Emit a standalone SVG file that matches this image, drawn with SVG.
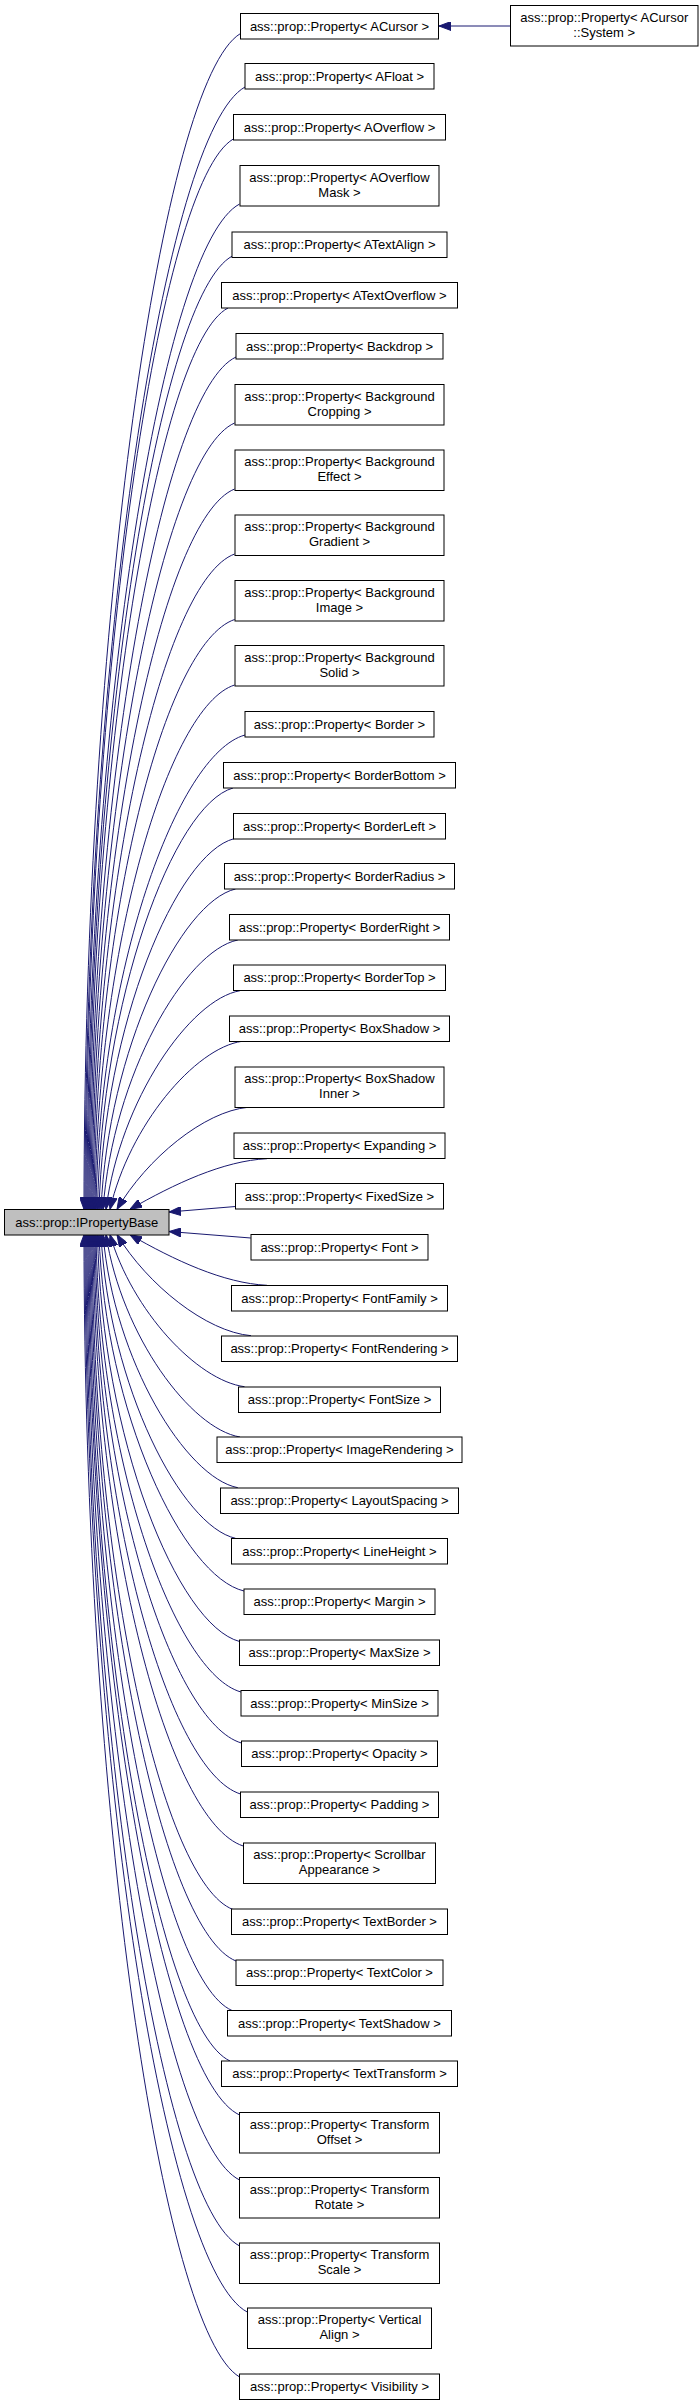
<svg xmlns="http://www.w3.org/2000/svg" width="700" height="2406" viewBox="0 0 700 2406">
<style>
.n rect{fill:#ffffff;stroke:#000000;stroke-width:1}
.b rect{fill:#bfbfbf;stroke:#000000;stroke-width:1}
text{font-family:"Liberation Sans",Arial,Helvetica,sans-serif;font-size:13px;fill:#000000;text-anchor:middle}
.e path{fill:none;stroke:#191970;stroke-width:1;marker-end:url(#ah)}
</style>
<defs>
<marker id="ah" viewBox="0 0 12 9" refX="12" refY="4.5" markerWidth="12" markerHeight="9" markerUnits="userSpaceOnUse" orient="auto"><path d="M0,0L12,4.5L0,9z" fill="#191970" stroke="#191970" stroke-width="1"/></marker>
</defs>
<rect width="700" height="2406" fill="#ffffff"/>
<g class="e" id="edges">
<path d="M510.5,26 L439,26"/>
<path d="M240.5,33.5 C162.2,80.5 84,621.4 84,1209.3"/>
<path d="M245,87 C165,131.9 85,648.2 85,1209.3"/>
<path d="M233.3,139 C159.6,181.8 86.1,674.2 86,1209.3"/>
<path d="M239.6,204 C163.3,244.2 87.1,706.7 87,1209.3"/>
<path d="M232.4,256 C160.2,294.1 88.1,732.7 88,1209.3"/>
<path d="M228,308 C158.5,344.1 89.2,758.7 89,1209.3"/>
<path d="M236,357 C163,391.1 90.2,783.2 90,1209.3"/>
<path d="M234.6,423 C162.8,454.5 91.3,816.2 91,1209.3"/>
<path d="M234.6,489 C163.3,517.8 92.5,849.2 92,1209.3"/>
<path d="M234.6,554 C163.8,580.2 93.8,881.7 93,1209.3"/>
<path d="M234.6,619.5 C164.7,643.1 95.2,914.4 94,1209.3"/>
<path d="M234.6,685 C168.3,706 96.9,947.2 95,1209.3"/>
<path d="M245,735 C176.8,754 98.8,972.2 96,1209.3"/>
<path d="M233,788 C173.4,804.9 101.2,998.7 97.5,1209.3"/>
<path d="M234,838.7 C176.8,853.5 104.1,1024 99,1209.3"/>
<path d="M235.5,889 C180.8,901.8 108.2,1049.2 101,1209.3"/>
<path d="M237.8,940 C185.2,950.8 113.1,1074.7 103,1209.3"/>
<path d="M240,990.7 C190,999.4 120.1,1100 106,1209.3"/>
<path d="M242,1041.3 C195,1048 129.4,1125.3 110,1209.3"/>
<path d="M248,1107.3 C204.2,1111.4 146.9,1158.3 117,1209.3"/>
<path d="M267,1158.7 C223.6,1160.7 174,1184 130,1209.3"/>
<path d="M235.5,1206.5 L169,1212"/>
<path d="M250.8,1238 L169,1231.5"/>
<path d="M267,1285.3 C223.6,1283.3 174,1260 130,1234.7"/>
<path d="M251,1335.7 C206.2,1331.7 147.8,1285.2 117,1234.7"/>
<path d="M244.5,1386.7 C197.3,1380.6 132,1310.7 110,1234.7"/>
<path d="M240,1437 C190.8,1428.9 121.7,1335.9 106,1234.7"/>
<path d="M237.8,1487.7 C186,1477.6 114.2,1361.2 103,1234.7"/>
<path d="M235.5,1538.3 C181.6,1526.2 109,1386.5 101,1234.7"/>
<path d="M244,1591 C183.2,1576.7 105.1,1412.9 99,1234.7"/>
<path d="M239.6,1641.5 C177.6,1625.2 101.7,1438.1 97.5,1234.7"/>
<path d="M241,1692 C175.5,1673.7 99.1,1463.4 96,1234.7"/>
<path d="M241.4,1743 C172.7,1722.7 97.2,1488.9 95,1234.7"/>
<path d="M240.5,1794 C169.3,1771.6 95.6,1514.4 94,1234.7"/>
<path d="M243.2,1846 C168.1,1821.5 94.1,1540.4 93,1234.7"/>
<path d="M233,1909.5 C162.5,1882.5 92.7,1572.1 92,1234.7"/>
<path d="M236,1961 C163.5,1931.9 91.5,1597.9 91,1234.7"/>
<path d="M232,2010.5 C161,1979.5 90.4,1622.6 90,1234.7"/>
<path d="M230,2061 C159.5,2027.9 89.3,1647.9 89,1234.7"/>
<path d="M239.6,2115 C163.8,2079.8 88.2,1674.9 88,1234.7"/>
<path d="M239.6,2180 C163.3,2142.2 87.1,1707.4 87,1234.7"/>
<path d="M239.6,2246 C162.8,2205.5 86.1,1740.4 86,1234.7"/>
<path d="M247.2,2312 C166.1,2268.9 85,1773.4 85,1234.7"/>
<path d="M239.6,2377 C161.8,2331.3 84,1805.9 84,1234.7"/>
</g>
<g class="b" id="IPropertyBase"><rect x="4.5" y="1209.5" width="164.5" height="25.5"/><text x="86.75" y="1226.5">ass::prop::IPropertyBase</text></g>
<g class="n" id="ACursorSystem"><rect x="510.5" y="5.5" width="187.5" height="40.5"/><text x="604.25" y="21.5">ass::prop::Property&lt; ACursor</text><text x="604.25" y="36.5">::System &gt;</text></g>
<g class="n" id="ACursor"><rect x="240.5" y="13.5" width="198" height="25.5"/><text x="339.5" y="30.5">ass::prop::Property&lt; ACursor &gt;</text></g>
<g class="n" id="AFloat"><rect x="245" y="63.5" width="189" height="25.5"/><text x="339.5" y="80.5">ass::prop::Property&lt; AFloat &gt;</text></g>
<g class="n" id="AOverflow"><rect x="233.5" y="114.5" width="212" height="25.5"/><text x="339.5" y="131.5">ass::prop::Property&lt; AOverflow &gt;</text></g>
<g class="n" id="AOverflowMask"><rect x="240" y="165.5" width="199" height="40.5"/><text x="339.5" y="181.5">ass::prop::Property&lt; AOverflow</text><text x="339.5" y="196.5">Mask &gt;</text></g>
<g class="n" id="ATextAlign"><rect x="232" y="232" width="215" height="25.5"/><text x="339.5" y="249">ass::prop::Property&lt; ATextAlign &gt;</text></g>
<g class="n" id="ATextOverflow"><rect x="221.5" y="282.5" width="236" height="25.5"/><text x="339.5" y="299.5">ass::prop::Property&lt; ATextOverflow &gt;</text></g>
<g class="n" id="Backdrop"><rect x="236" y="333.5" width="207" height="25.5"/><text x="339.5" y="350.5">ass::prop::Property&lt; Backdrop &gt;</text></g>
<g class="n" id="BackgroundCropping"><rect x="235" y="384.5" width="209" height="40.5"/><text x="339.5" y="400.5">ass::prop::Property&lt; Background</text><text x="339.5" y="415.5">Cropping &gt;</text></g>
<g class="n" id="BackgroundEffect"><rect x="235" y="450" width="209" height="40.5"/><text x="339.5" y="466">ass::prop::Property&lt; Background</text><text x="339.5" y="481">Effect &gt;</text></g>
<g class="n" id="BackgroundGradient"><rect x="235" y="515" width="209" height="40.5"/><text x="339.5" y="531">ass::prop::Property&lt; Background</text><text x="339.5" y="546">Gradient &gt;</text></g>
<g class="n" id="BackgroundImage"><rect x="235" y="580.5" width="209" height="40.5"/><text x="339.5" y="596.5">ass::prop::Property&lt; Background</text><text x="339.5" y="611.5">Image &gt;</text></g>
<g class="n" id="BackgroundSolid"><rect x="235" y="645.5" width="209" height="40.5"/><text x="339.5" y="661.5">ass::prop::Property&lt; Background</text><text x="339.5" y="676.5">Solid &gt;</text></g>
<g class="n" id="Border"><rect x="245" y="711.5" width="189" height="25.5"/><text x="339.5" y="728.5">ass::prop::Property&lt; Border &gt;</text></g>
<g class="n" id="BorderBottom"><rect x="223.5" y="762.5" width="232" height="25.5"/><text x="339.5" y="779.5">ass::prop::Property&lt; BorderBottom &gt;</text></g>
<g class="n" id="BorderLeft"><rect x="233.5" y="813.5" width="212" height="25.5"/><text x="339.5" y="830.5">ass::prop::Property&lt; BorderLeft &gt;</text></g>
<g class="n" id="BorderRadius"><rect x="224.5" y="863.5" width="230" height="25.5"/><text x="339.5" y="880.5">ass::prop::Property&lt; BorderRadius &gt;</text></g>
<g class="n" id="BorderRight"><rect x="229.5" y="914.5" width="220" height="25.5"/><text x="339.5" y="931.5">ass::prop::Property&lt; BorderRight &gt;</text></g>
<g class="n" id="BorderTop"><rect x="233.5" y="965" width="212" height="25.5"/><text x="339.5" y="982">ass::prop::Property&lt; BorderTop &gt;</text></g>
<g class="n" id="BoxShadow"><rect x="229.5" y="1016" width="220" height="25.5"/><text x="339.5" y="1033">ass::prop::Property&lt; BoxShadow &gt;</text></g>
<g class="n" id="BoxShadowInner"><rect x="235" y="1067" width="209" height="40.5"/><text x="339.5" y="1083">ass::prop::Property&lt; BoxShadow</text><text x="339.5" y="1098">Inner &gt;</text></g>
<g class="n" id="Expanding"><rect x="234" y="1133" width="211" height="25.5"/><text x="339.5" y="1150">ass::prop::Property&lt; Expanding &gt;</text></g>
<g class="n" id="FixedSize"><rect x="235.5" y="1183.5" width="208" height="25.5"/><text x="339.5" y="1200.5">ass::prop::Property&lt; FixedSize &gt;</text></g>
<g class="n" id="Font"><rect x="251" y="1234.5" width="177" height="25.5"/><text x="339.5" y="1251.5">ass::prop::Property&lt; Font &gt;</text></g>
<g class="n" id="FontFamily"><rect x="231.5" y="1285.5" width="216" height="25.5"/><text x="339.5" y="1302.5">ass::prop::Property&lt; FontFamily &gt;</text></g>
<g class="n" id="FontRendering"><rect x="221.5" y="1336" width="236" height="25.5"/><text x="339.5" y="1353">ass::prop::Property&lt; FontRendering &gt;</text></g>
<g class="n" id="FontSize"><rect x="238.5" y="1387" width="202" height="25.5"/><text x="339.5" y="1404">ass::prop::Property&lt; FontSize &gt;</text></g>
<g class="n" id="ImageRendering"><rect x="217" y="1437" width="245" height="25.5"/><text x="339.5" y="1454">ass::prop::Property&lt; ImageRendering &gt;</text></g>
<g class="n" id="LayoutSpacing"><rect x="220.5" y="1488" width="238" height="25.5"/><text x="339.5" y="1505">ass::prop::Property&lt; LayoutSpacing &gt;</text></g>
<g class="n" id="LineHeight"><rect x="231.5" y="1538.5" width="216" height="25.5"/><text x="339.5" y="1555.5">ass::prop::Property&lt; LineHeight &gt;</text></g>
<g class="n" id="Margin"><rect x="244" y="1589" width="191" height="25.5"/><text x="339.5" y="1606">ass::prop::Property&lt; Margin &gt;</text></g>
<g class="n" id="MaxSize"><rect x="239.5" y="1640" width="200" height="25.5"/><text x="339.5" y="1657">ass::prop::Property&lt; MaxSize &gt;</text></g>
<g class="n" id="MinSize"><rect x="241" y="1690.5" width="197" height="25.5"/><text x="339.5" y="1707.5">ass::prop::Property&lt; MinSize &gt;</text></g>
<g class="n" id="Opacity"><rect x="241.5" y="1741" width="196" height="25.5"/><text x="339.5" y="1758">ass::prop::Property&lt; Opacity &gt;</text></g>
<g class="n" id="Padding"><rect x="240.5" y="1792" width="198" height="25.5"/><text x="339.5" y="1809">ass::prop::Property&lt; Padding &gt;</text></g>
<g class="n" id="ScrollbarAppearance"><rect x="243.5" y="1843" width="192" height="40.5"/><text x="339.5" y="1859">ass::prop::Property&lt; Scrollbar</text><text x="339.5" y="1874">Appearance &gt;</text></g>
<g class="n" id="TextBorder"><rect x="231.5" y="1909" width="216" height="25.5"/><text x="339.5" y="1926">ass::prop::Property&lt; TextBorder &gt;</text></g>
<g class="n" id="TextColor"><rect x="236" y="1960" width="207" height="25.5"/><text x="339.5" y="1977">ass::prop::Property&lt; TextColor &gt;</text></g>
<g class="n" id="TextShadow"><rect x="227.5" y="2010.5" width="224" height="25.5"/><text x="339.5" y="2027.5">ass::prop::Property&lt; TextShadow &gt;</text></g>
<g class="n" id="TextTransform"><rect x="221.5" y="2061" width="236" height="25.5"/><text x="339.5" y="2078">ass::prop::Property&lt; TextTransform &gt;</text></g>
<g class="n" id="TransformOffset"><rect x="239.5" y="2112.5" width="200" height="40.5"/><text x="339.5" y="2128.5">ass::prop::Property&lt; Transform</text><text x="339.5" y="2143.5">Offset &gt;</text></g>
<g class="n" id="TransformRotate"><rect x="239.5" y="2177.5" width="200" height="40.5"/><text x="339.5" y="2193.5">ass::prop::Property&lt; Transform</text><text x="339.5" y="2208.5">Rotate &gt;</text></g>
<g class="n" id="TransformScale"><rect x="239.5" y="2243" width="200" height="40.5"/><text x="339.5" y="2259">ass::prop::Property&lt; Transform</text><text x="339.5" y="2274">Scale &gt;</text></g>
<g class="n" id="VerticalAlign"><rect x="247.5" y="2308" width="184" height="40.5"/><text x="339.5" y="2324">ass::prop::Property&lt; Vertical</text><text x="339.5" y="2339">Align &gt;</text></g>
<g class="n" id="Visibility"><rect x="239.5" y="2374" width="200" height="25.5"/><text x="339.5" y="2391">ass::prop::Property&lt; Visibility &gt;</text></g>
</svg>
